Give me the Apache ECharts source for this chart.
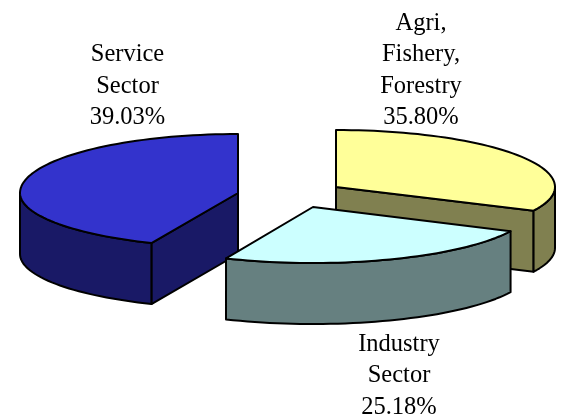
<!DOCTYPE html>
<html>
<head>
<meta charset="utf-8">
<style>html,body{margin:0;padding:0;background:#fff}#c{width:563px;height:415px}</style>
<script src="https://cdn.jsdelivr.net/npm/echarts@6/dist/echarts.min.js"></script>
</head>
<body>
<div id="c"></div>
<script>
// Values
const categories = ['Agri, Fishery, Forestry', 'Industry Sector', 'Service Sector'];
const labelLines = [['Agri,', 'Fishery,', 'Forestry'], ['Industry', 'Sector'], ['Service', 'Sector']];
const printedPercent = ['35.80%', '25.18%', '39.03%'];
// Share of the turn each slice visibly sweeps in the picture (read from its edges;
// the reference's 3D projection does not sweep exactly the printed percentages).
const drawnShare = [32.1, 24.4, 43.5];

// Colours
const topColors = ['#FFFF99', '#CCFFFF', '#3333CC'];
const sideColors = ['#808050', '#668080', '#191966'];

// Layout of each exploded slice
const apexX = [336, 313, 238];
const apexY = [187, 207, 193];
const radiusX = [219, 219, 218];
const radiusBack = [57, 56, 59];
const radiusFront = [55, 56, 54.5];
const depth = 61;
const drawOrder = [1, 3, 2];
const labelX = [421, 399, 127.5];
const labelY = [23.5, 344.5, 55];
const lineHeight = 31.3;
const fontSize = 24.5;

const total = drawnShare.reduce((a, b) => a + b, 0);
const rad = Math.PI / 180;

function point(i, deg, down) {
  const c = Math.cos(deg * rad), s = Math.sin(deg * rad);
  return [apexX[i] + radiusX[i] * s,
          apexY[i] - (c > 0 ? radiusBack[i] : radiusFront[i]) * c + (down ? depth : 0)];
}
function arc(i, from, to, down) {
  const pts = [], n = Math.max(2, Math.ceil(Math.abs(to - from) / 2));
  for (let k = 0; k <= n; k++) pts.push(point(i, from + (to - from) * k / n, down));
  return pts;
}
function face(i, deg) {
  const p = point(i, deg, false), q = point(i, deg, true);
  return [[apexX[i], apexY[i]], p, q, [apexX[i], apexY[i] + depth]];
}
function poly(points, fill, z2) {
  return {type: 'polygon', z2, shape: {points},
    style: {fill, stroke: '#000', lineWidth: 2, lineJoin: 'round'}};
}

function renderSlice(params, api) {
  const i = params.dataIndex;
  let start = 0;
  for (let k = 0; k < i; k++) start += drawnShare[k];
  const a0 = start / total * 360;
  const a1 = (start + api.value(0)) / total * 360;
  const base = drawOrder[i] * 10;
  const children = [];
  // cut faces turned toward the viewer
  if (Math.sin(a1 * rad) > 0.01) children.push(poly(face(i, a1), sideColors[i], base));
  if (Math.sin(a0 * rad) < -0.01) children.push(poly(face(i, a0), sideColors[i], base));
  // outer wall: only the front half of the rim
  const w0 = Math.max(a0, 90), w1 = Math.min(a1, 270);
  if (w1 > w0) {
    children.push(poly(arc(i, w0, w1, false).concat(arc(i, w1, w0, true)), sideColors[i], base + 1));
  }
  // top surface
  children.push(poly([[apexX[i], apexY[i]]].concat(arc(i, a0, a1, false)), topColors[i], base + 2));
  // label
  labelLines[i].concat(printedPercent[i]).forEach((line, k) => {
    children.push({type: 'text', z2: 100,
      style: {text: line, x: labelX[i], y: labelY[i] + k * lineHeight, fill: '#000',
        font: fontSize + 'px "Liberation Serif"', textAlign: 'center', textVerticalAlign: 'middle'}});
  });
  return {type: 'group', children};
}

const chart = echarts.init(document.getElementById('c'));
chart.setOption({
  animation: false,
  backgroundColor: '#fff',
  series: [{
    type: 'custom',
    coordinateSystem: 'none',
    renderItem: renderSlice,
    data: drawnShare.map((v, i) => ({name: categories[i], value: [v]}))
  }]
});
</script>
</body>
</html>
